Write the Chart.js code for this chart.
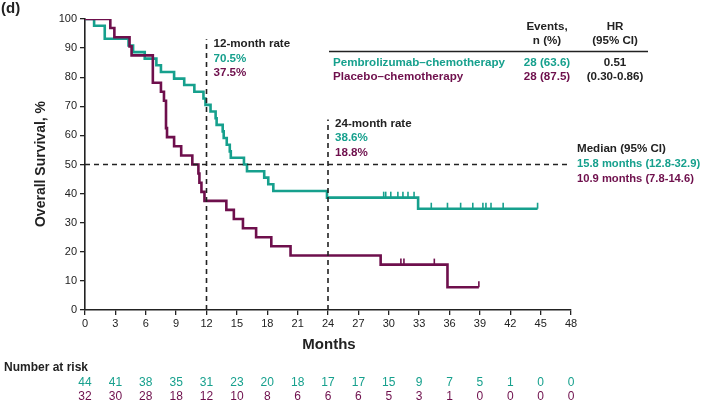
<!DOCTYPE html>
<html lang="en">
<head>
<meta charset="UTF-8">
<title>Overall Survival</title>
<script src="https://cdn.jsdelivr.net/npm/chart.js"></script>
<style>
  html, body { margin: 0; padding: 0; background: #fff; }
  #wrap { width: 707px; height: 402px; position: relative; }
</style>
</head>
<body>
<div id="wrap"><canvas id="osChart" width="707" height="402"></canvas></div>
<script>
// KM curves: month of each drop and the % it drops to
// (last entry = end of follow-up, same value)
const pembroTimes = [0, 0.9, 1.95, 4.3, 4.75, 5.9, 7.05, 7.5, 8.8, 9.8, 10.8, 11.7, 11.9,
  12.4, 12.9, 13.0, 13.6, 13.7, 14.0, 14.3, 14.4, 15.7, 16.0, 17.7, 18.1, 18.6, 23.9, 32.9, 44.7];
const pembroSurv = [100, 97.7, 93.2, 90.9, 88.6, 86.4, 84.1, 81.8, 79.5, 77.3, 75.0, 72.7, 70.5,
  68.2, 65.9, 63.6, 61.4, 59.1, 56.8, 54.5, 52.3, 50.0, 47.7, 45.5, 43.2, 40.9, 38.6, 34.8, 34.8];
const pembroCensor = [29.5, 29.7, 30.2, 30.9, 31.4, 31.9, 32.5, 34.2, 35.8, 37.1, 38.3,
  39.3, 39.6, 40.1, 41.3, 44.7];

const placeboTimes = [0, 2.5, 2.9, 4.4, 4.6, 6.7, 7.5, 7.8, 8.0, 8.1, 8.8, 9.5, 10.6, 11.2,
  11.3, 11.5, 11.8, 13.96, 14.7, 15.6, 16.9, 18.4, 20.3, 29.2, 35.8, 38.9];
const placeboSurv = [100, 96.9, 93.75, 90.6, 87.5, 78.1, 75.0, 71.9, 62.5, 59.4, 56.25, 53.1,
  50.0, 46.9, 43.75, 40.6, 37.5, 34.4, 31.25, 28.1, 25.0, 21.9, 18.75, 15.6, 7.8, 7.8];
const placeboCensor = [31.2, 31.5, 34.5, 38.9];

const riskMonths = [0, 3, 6, 9, 12, 15, 18, 21, 24, 27, 30, 33, 36, 39, 42, 45, 48];
const pembroRisk = [44, 41, 38, 35, 31, 23, 20, 18, 17, 17, 15, 9, 7, 5, 1, 0, 0];
const placeboRisk = [32, 30, 28, 18, 12, 10, 8, 6, 6, 6, 5, 3, 1, 0, 0, 0, 0];

const TEAL = '#16a08d';
const PURPLE = '#6e0f4c';
const INK = '#222';
const FONT = '"Liberation Sans", Arial, sans-serif';

function stepPoints(times, surv) {
  return times.map((t, i) => ({ x: t, y: surv[i] }));
}

// survival at time t (for placing censor marks on the curve)
function survAt(times, surv, t) {
  let s = surv[0];
  for (let i = 0; i < times.length; i++) {
    if (times[i] <= t) s = surv[i];
  }
  return s;
}

function censorPoints(times, surv, cens) {
  return cens.map(t => ({ x: t, y: survAt(times, surv, t) }));
}

const dashed = {
  borderColor: INK,
  borderWidth: 1.6,
  borderDash: [5, 4],
  pointRadius: 0,
  fill: false,
  order: 0
};

// small upward ticks for censored patients
const censorTicks = {
  id: 'censorTicks',
  afterDatasetsDraw(chart) {
    const ctx = chart.ctx;
    chart.data.datasets.forEach((ds, i) => {
      if (!ds.censor) return;
      const meta = chart.getDatasetMeta(i);
      ctx.save();
      ctx.strokeStyle = ds.borderColor;
      ctx.lineWidth = 1.6;
      meta.data.forEach(p => {
        ctx.beginPath();
        ctx.moveTo(p.x, p.y);
        ctx.lineTo(p.x, p.y - 6);
        ctx.stroke();
      });
      ctx.restore();
    });
  }
};

const labels = {
  id: 'labels',
  afterDraw(chart) {
    const ctx = chart.ctx;
    const xs = chart.scales.x;
    ctx.save();
    ctx.textBaseline = 'middle';

    function txt(s, x, y, color, size, bold, align) {
      ctx.font = (bold ? 'bold ' : '') + size + 'px ' + FONT;
      ctx.fillStyle = color;
      ctx.textAlign = align || 'left';
      ctx.fillText(s, x, y);
    }

    txt('(d)', 1, 9, INK, 15, true);

    // y title
    ctx.save();
    ctx.translate(41, 164);
    ctx.rotate(-Math.PI / 2);
    txt('Overall Survival, %', 0, 0, INK, 14, true, 'center');
    ctx.restore();

    txt('Months', 329, 345, INK, 15, true, 'center');

    // number at risk
    txt('Number at risk', 4, 368, INK, 12, true);
    riskMonths.forEach((m, i) => {
      const px = xs.getPixelForValue(m);
      txt(String(pembroRisk[i]), px, 383, TEAL, 12, false, 'center');
      txt(String(placeboRisk[i]), px, 397, PURPLE, 12, false, 'center');
    });

    const fs = 11.6;
    // rate call-outs
    const x12 = xs.getPixelForValue(12) + 7;
    txt('12-month rate', x12, 44, INK, fs, true);
    txt('70.5%', x12, 59, TEAL, fs, true);
    txt('37.5%', x12, 73, PURPLE, fs, true);

    const x24 = xs.getPixelForValue(24) + 7;
    txt('24-month rate', x24, 124, INK, fs, true);
    txt('38.6%', x24, 138, TEAL, fs, true);
    txt('18.8%', x24, 153, PURPLE, fs, true);

    txt('Median (95% CI)', 577, 149, INK, fs, true);
    txt('15.8 months (12.8-32.9)', 577, 164, TEAL, 11.2, true);
    txt('10.9 months (7.8-14.6)', 577, 179, PURPLE, 11.2, true);

    // events / HR table
    txt('Events,', 547, 27, INK, fs, true, 'center');
    txt('n (%)', 547, 41, INK, fs, true, 'center');
    txt('HR', 615, 27, INK, fs, true, 'center');
    txt('(95% CI)', 615, 41, INK, fs, true, 'center');
    ctx.strokeStyle = INK;
    ctx.lineWidth = 1.5;
    ctx.beginPath();
    ctx.moveTo(329, 51.5);
    ctx.lineTo(648, 51.5);
    ctx.stroke();
    txt('Pembrolizumab\u2013chemotherapy', 333, 63, TEAL, fs, true);
    txt('Placebo\u2013chemotherapy', 333, 77, PURPLE, fs, true);
    txt('28 (63.6)', 547, 63, TEAL, fs, true, 'center');
    txt('28 (87.5)', 547, 77, PURPLE, fs, true, 'center');
    txt('0.51', 615, 63, INK, fs, true, 'center');
    txt('(0.30-0.86)', 615, 77, INK, fs, true, 'center');

    ctx.restore();
  }
};

new Chart(document.getElementById('osChart'), {
  type: 'line',
  data: {
    datasets: [
      Object.assign({ data: [{ x: 12, y: 0 }, { x: 12, y: 93 }] }, dashed),
      Object.assign({ data: [{ x: 24, y: 0 }, { x: 24, y: 65.5 }] }, dashed),
      Object.assign({ data: [{ x: 0, y: 50 }, { x: 48, y: 50 }] }, dashed),
      {
        label: 'Pembrolizumab\u2013chemotherapy',
        data: stepPoints(pembroTimes, pembroSurv),
        borderColor: TEAL, borderWidth: 2.6, stepped: true, pointRadius: 0, order: 2
      },
      {
        label: 'Placebo\u2013chemotherapy',
        data: stepPoints(placeboTimes, placeboSurv),
        borderColor: PURPLE, borderWidth: 2.6, stepped: true, pointRadius: 0, order: 1
      },
      {
        censor: true, data: censorPoints(pembroTimes, pembroSurv, pembroCensor),
        borderColor: TEAL, showLine: false, pointRadius: 0, order: 2
      },
      {
        censor: true, data: censorPoints(placeboTimes, placeboSurv, placeboCensor),
        borderColor: PURPLE, showLine: false, pointRadius: 0, order: 1
      }
    ]
  },
  options: {
    responsive: false,
    animation: false,
    layout: { padding: { top: 19, right: 136, left: 0, bottom: 0 } },
    plugins: { legend: { display: false }, tooltip: { enabled: false } },
    scales: {
      x: {
        type: 'linear', min: 0, max: 48,
        ticks: { stepSize: 3, autoSkip: false, maxRotation: 0, padding: 2, color: INK, font: { family: FONT, size: 11 } },
        grid: { drawOnChartArea: false, drawTicks: true, tickLength: 5, color: INK, lineWidth: 1.3 },
        border: { color: INK, width: 1.6 },
        afterFit: s => { s.height = 92; }
      },
      y: {
        min: 0, max: 100,
        ticks: { stepSize: 10, padding: 3, color: INK, font: { family: FONT, size: 11 } },
        grid: { drawOnChartArea: false, drawTicks: true, tickLength: 5, color: INK, lineWidth: 1.3 },
        border: { color: INK, width: 1.6 },
        afterFit: s => { s.width = 85; }
      }
    }
  },
  plugins: [censorTicks, labels]
});
</script>
</body>
</html>
